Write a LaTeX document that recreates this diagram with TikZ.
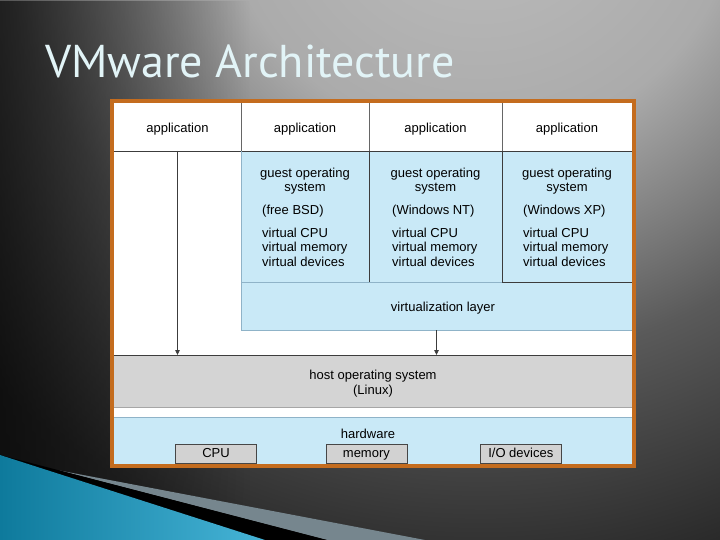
\documentclass[tikz,border=0pt]{standalone}
\usepackage{fontspec}
\newfontfamily\diagfont{Liberation Sans}
\newfontfamily\titlefont{PT Sans}
\usetikzlibrary{positioning,arrows.meta,fadings}

\definecolor{frameorange}{RGB}{196,108,30}
\definecolor{vmblue}{RGB}{201,233,247}
\definecolor{hostgray}{RGB}{212,212,212}
\definecolor{chipgray}{RGB}{210,210,210}
\definecolor{rulegray}{RGB}{60,60,60}
\definecolor{softline}{RGB}{143,179,200}
\definecolor{titlecyan}{RGB}{226,244,247}
\definecolor{tealdark}{RGB}{14,122,156}
\definecolor{teallight}{RGB}{70,180,215}
\definecolor{swooshgray}{RGB}{118,134,142}
\definecolor{glowA}{RGB}{190,190,190}
\definecolor{glowB}{RGB}{171,171,171}
\definecolor{glowC}{RGB}{90,90,90}
\definecolor{glowD}{RGB}{42,42,42}
\definecolor{glowE}{RGB}{26,26,26}

\pgfdeclareradialshading{slideglow}{\pgfpoint{0bp}{0bp}}{%
  color(0bp)=(glowA); color(6.5bp)=(glowB); color(12bp)=(glowC);
  color(17.5bp)=(glowD); color(25bp)=(glowE); color(50bp)=(glowE)}

\newcommand\vmtext{\diagfont\fontsize{13}{14.5}\selectfont}

\tikzset{
  region/.style={anchor=north west, inner sep=0pt, outer sep=0pt, font=\vmtext},
  appcell/.style={region, minimum height=48pt, text height=12.8pt, text depth=2pt},
  vmlabel/.style={inner sep=0pt, font=\vmtext},
  chip/.style={draw=gray!55!black, fill=chipgray, minimum width=81pt, minimum height=19pt, inner sep=0pt,
    text height=9.5pt, text depth=2.5pt, font=\vmtext},
  slidetitle/.style={anchor=base west, inner sep=0pt, font=\titlefont\fontsize{46}{52}\selectfont},
  rule/.style={draw=rulegray, line width=0.8pt},
  thinrule/.style={draw=gray!80!black, line width=0.6pt},
  softrule/.style={draw=softline, line width=0.7pt},
  down/.style={rulegray, line width=0.8pt, -{Triangle[length=5pt,width=4.5pt]}}
}

\begin{document}
\begin{tikzpicture}[x=1pt,y=-1pt]
\useasboundingbox (0,0) rectangle (720,540);

% slide background
\begin{scope}
  \clip (0,0) rectangle (720,540);
  \shade[shading=slideglow] (-520,-1120) rectangle (1480,880);
  \fill[black, path fading=east] (-150,0) rectangle (250,540);
\end{scope}

% swoosh
\fill[swooshgray] (60,470.6) -- (425,540) -- (327,540) -- cycle;
\fill[black] (0,455) -- (327,540) -- (0,540) -- cycle;
\shade[left color=tealdark, right color=teallight] (0,455) -- (265,540) -- (0,540) -- cycle;

% title
\node[slidetitle, text=titlecyan] (title) at (45,78) {VMware Architecture};

% frame
\fill[frameorange] (110,99) rectangle (636,468);
\fill[white] (114,103) rectangle (632,464);

% applications
\node[appcell, minimum width=127pt] (app1) at (114,103) {application};
\node[appcell, minimum width=128pt] (app2) at (app1.north east) {application};
\node[appcell, minimum width=133pt] (app3) at (app2.north east) {application};
\node[appcell, minimum width=130pt] (app4) at (app3.north east) {application};

% guests
\node[region, fill=vmblue, minimum width=128pt, minimum height=131pt] (gos1) at (app2.south west) {};
\node[region, fill=vmblue, minimum width=133pt, minimum height=131pt] (gos2) at (gos1.north east) {};
\node[region, fill=vmblue, minimum width=130pt, minimum height=131pt] (gos3) at (gos2.north east) {};
\node[region, fill=vmblue, minimum width=391pt, minimum height=48pt] (virt) at (gos1.south west) {};
\node[vmlabel] (virtlabel) at (443,308) {virtualization layer};

\foreach \c/\dx/\os in {1/21/free BSD,2/23/Windows NT,3/21/Windows XP}{
  \node[vmlabel, align=center] (gtitle\c) at ([yshift=-30pt]gos\c.north) {guest operating\\system};
  \node[vmlabel, anchor=west] (gname\c) at ([xshift=\dx pt,yshift=-60pt]gos\c.north west) {(\os)};
  \node[vmlabel, anchor=west, align=left] (gvirt\c) at ([xshift=\dx pt,yshift=-96pt]gos\c.north west) {virtual CPU\\virtual memory\\virtual devices};
}

% host and hardware
\node[region, fill=hostgray, minimum width=518pt, minimum height=52pt] (host) at (114,355) {};
\node[vmlabel, align=center, font=\diagfont\fontsize{13}{15}\selectfont] (hostlabel) at (373,384) {host operating system\\(Linux)};
\node[region, fill=vmblue, minimum width=518pt, minimum height=47pt] (hw) at (114,417) {};
\node[vmlabel] (hwlabel) at (368,433.5) {hardware};
\node[chip] (cpu) at (216,453.5) {CPU};
\node[chip, right=69pt of cpu] (mem) {memory};
\node[chip, right=73pt of mem] (io) {I/O devices};

% rules
\draw[thinrule] (app1.north east) -- (app1.south east) (app2.north east) -- (app2.south east) (app3.north east) -- (app3.south east);
\draw[rule] (app1.south west) -- (app4.south east);
\draw[rule] (gos1.north east) -- (gos1.south east) (gos2.north east) -- (gos2.south east) (gos3.south west) -- (gos3.south east);
\draw[softrule] (gos1.north west) -- (virt.south west) -- (virt.south east) (gos1.south west) -- (gos2.south east);
\draw[rule] (host.north west) -- (host.north east);
\draw[draw=gray!70, line width=0.7pt] (host.south west) -- (host.south east);
\draw[softrule] (hw.north west) -- (hw.north east);

% arrows
\draw[down] (app1.south) -- (app1.south |- host.north);
\draw[down] (virt.south) -- (virt.south |- host.north);
\end{tikzpicture}
\end{document}
